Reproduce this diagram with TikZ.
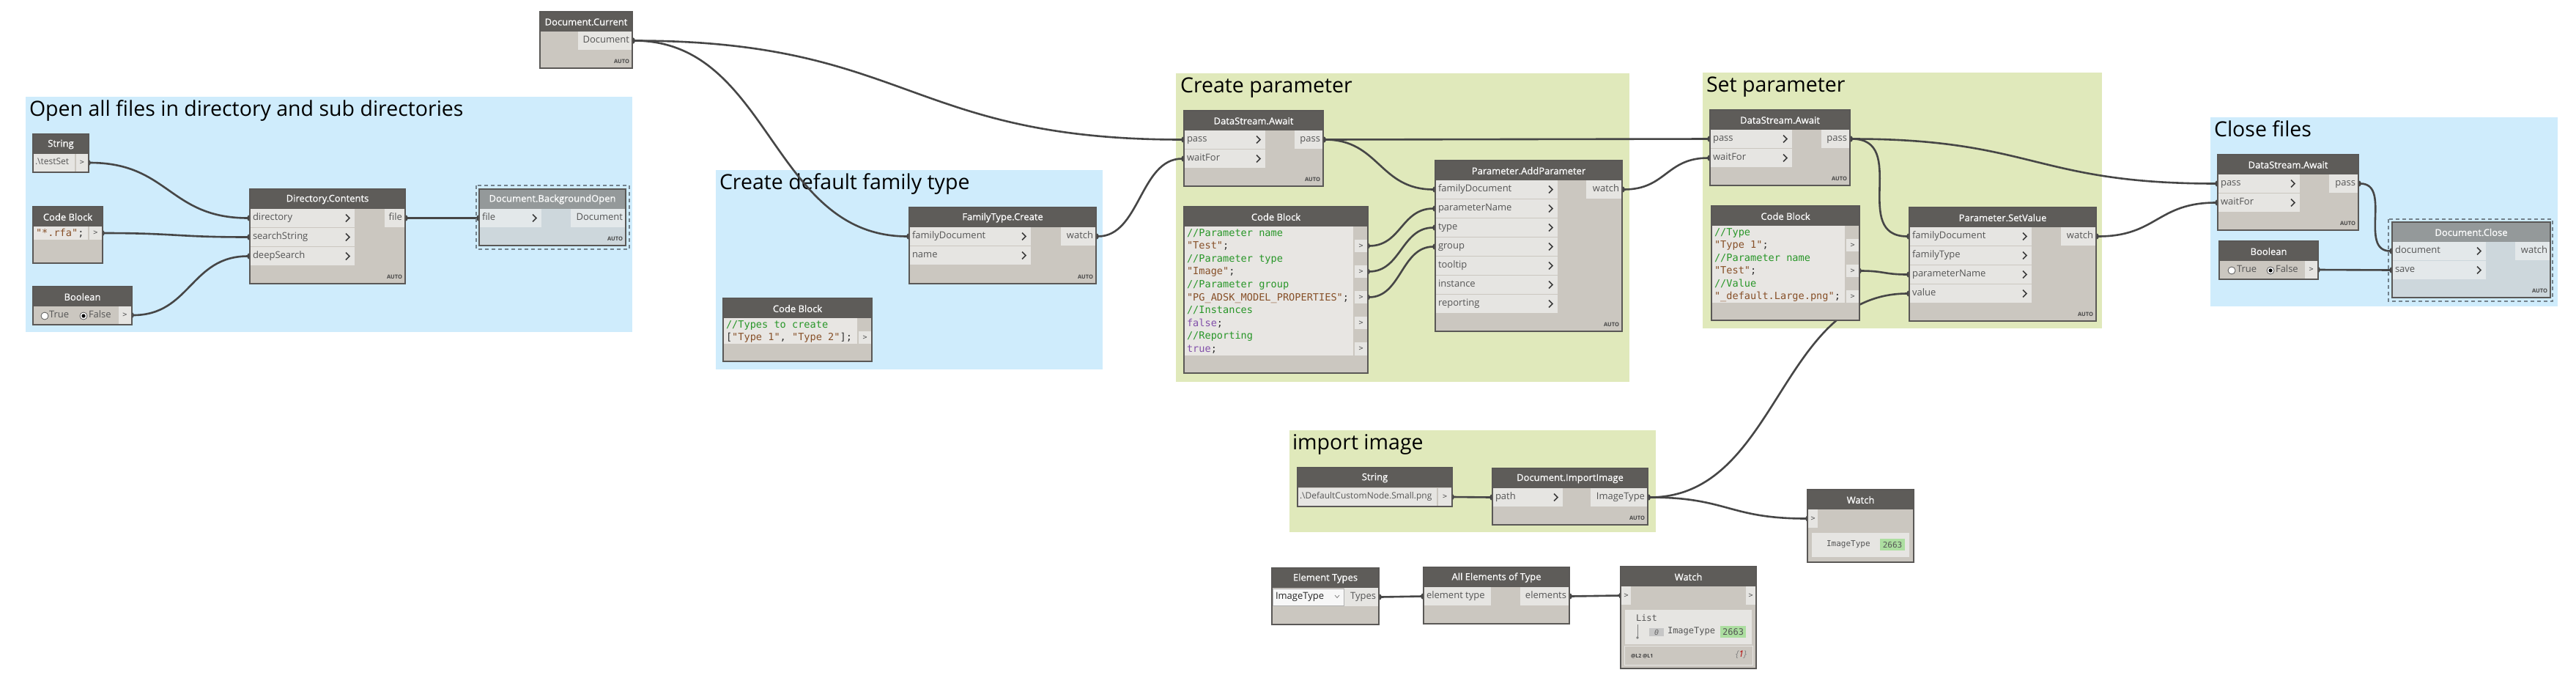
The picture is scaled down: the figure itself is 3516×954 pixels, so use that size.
\documentclass[tikz,border=0pt]{standalone}
\usepackage{fontspec}
\setmainfont{Open Sans}
\setmonofont{DejaVu Sans Mono}
\newfontfamily\hdrfont[FakeBold=0.6]{Open Sans}
\usetikzlibrary{fit,calc,arrows.meta}
\pgfdeclarelayer{grp}
\pgfdeclarelayer{wires}
\pgfdeclarelayer{top}
\pgfsetlayers{grp,wires,main,top}
\definecolor{grpblue}{RGB}{207,236,252}
\definecolor{grpgreen}{RGB}{224,233,187}
\definecolor{hdr}{RGB}{94,92,89}
\definecolor{bodyc}{RGB}{203,199,192}
\definecolor{rowc}{RGB}{230,229,226}
\definecolor{codebg}{RGB}{232,230,227}
\definecolor{brd}{RGB}{90,88,86}
\definecolor{porttxt}{RGB}{85,85,85}
\definecolor{autotxt}{RGB}{70,70,70}
\definecolor{chevc}{RGB}{60,60,60}
\definecolor{fzhdr}{RGB}{148,153,154}
\definecolor{fzbody}{RGB}{205,215,220}
\definecolor{fzrow}{RGB}{227,232,234}
\definecolor{fzdash}{RGB}{115,130,140}
\definecolor{wirec}{RGB}{70,70,70}
\definecolor{cgreen}{RGB}{40,150,40}
\definecolor{cbrown}{RGB}{135,80,40}
\definecolor{cpurple}{RGB}{130,80,170}
\definecolor{codedark}{RGB}{50,50,50}
\definecolor{wgreen}{RGB}{172,222,160}
\def\curbody{bodyc}\def\curhdr{hdr}\def\currow{rowc}
\newcommand\ccom[1]{\textcolor{cgreen}{#1}}
\newcommand\cstr[1]{\textcolor{cbrown}{#1}}
\newcommand\ckw[1]{\textcolor{cpurple}{#1}}
\tikzset{
  every node/.style={inner sep=0pt, outer sep=0pt},
  hdrtext/.style={text=white, font=\hdrfont\fontsize{13}{15}\selectfont},
  porttext/.style={text=porttxt, font=\fontsize{13}{15}\selectfont},
  autotext/.style={text=autotxt, font=\fontsize{7.5}{9}\selectfont\bfseries},
  codetext/.style={anchor=base west, font=\ttfamily\fontsize{13.6}{16}\selectfont, text=codedark},
  grptitle/.style={anchor=base west, text=black, font=\fontsize{28.5}{32}\selectfont},
  nborder/.style={draw=brd, line width=1.4pt},
  chev/.style={draw=chevc, line width=1.6pt},
  wire/.style={draw=wirec, line width=2.6pt, arrows={Ellipse[length=3.5pt,width=7pt]-Ellipse[length=3.5pt,width=7pt]}},
  frzdash/.style={draw=fzdash, line width=1.8pt, dash pattern=on 5pt off 4pt},
  radio/.style={draw=gray!70!black, fill=white, line width=0.8pt},
  smalltext/.style={text=porttxt, font=\ttfamily\fontsize{10}{12}\selectfont},
}
\newcommand\dnode[6]{%
  \node[fit={(#2,#3)(#4,#5)}, fill=\curbody] (#1) {};
  \fill[fill=\curhdr] (#2,#3) rectangle (#4,{#3+27});
  \node[hdrtext] (#1-t) at ({(#2+#4)/2},{#3+14}) {#6};
  \begin{pgfonlayer}{top}\draw[nborder] (#2,#3) rectangle (#4,#5);\end{pgfonlayer}
}
\newcommand\inport[5]{%
  \node[fit={(#2,#4)(#3,{#4+25})}, fill=\currow] (#1) {};
  \node[porttext, anchor=mid west] (#1-l) at ([xshift=4pt]#1.west) {#5};
  \draw[chev] ([xshift=-12pt,yshift=5pt]#1.east) -- ([xshift=-7pt]#1.east) -- ([xshift=-12pt,yshift=-5pt]#1.east);
}
\newcommand\inportnc[5]{%
  \node[fit={(#2,#4)(#3,{#4+25})}, fill=\currow] (#1) {};
  \node[porttext, anchor=mid west] (#1-l) at ([xshift=4pt]#1.west) {#5};
}
\newcommand\outport[5]{%
  \node[fit={(#2,#4)(#3,{#4+25})}, fill=\currow] (#1) {};
  \node[porttext, anchor=mid east] (#1-l) at ([xshift=-4pt]#1.east) {#5};
}
\newcommand\smallout[5]{%
  \node[fit={(#2,#3)(#4,#5)}, fill=\currow] (#1) {};
  \node[smalltext] (#1-l) at (#1.center) {>};
}
\newcommand\autolbl[3]{\node[autotext, anchor=base east] (#1) at (#2,#3) {AUTO};}
\newcommand\cl[4]{\node[codetext] (#1) at (#2,#3) {#4};}
\newcommand\wire[3][0.5]{%
  \draw[wire] let \p1=(#2.east), \p2=(#3.west), \n1={(\x2-\x1)*#1} in
    (\p1) .. controls +(\n1,0) and +({-\n1},0) .. (\p2);
}
\begin{document}
\begin{tikzpicture}[x=1pt,y=-1pt]
\begin{pgfonlayer}{grp}
\fill[white] (0,0) rectangle (3516,954);
\end{pgfonlayer}
\useasboundingbox (0,0) rectangle (3516,954);
% ---------- groups
\begin{pgfonlayer}{grp}
\node[fit={(35,132)(863,453)}, fill=grpblue] (g1) {};
\node[grptitle] (g1-t) at (40,158) {Open all files in directory and sub directories};
\node[fit={(977,232)(1505,504)}, fill=grpblue] (g2) {};
\node[grptitle] (g2-t) at (982,258) {Create default family type};
\node[fit={(1605,100)(2224,521)}, fill=grpgreen] (g3) {};
\node[grptitle] (g3-t) at (1611,126) {Create parameter};
\node[fit={(2324,99)(2869,448)}, fill=grpgreen] (g4) {};
\node[grptitle] (g4-t) at (2329,125) {Set parameter};
\node[fit={(3017,160)(3491,418)}, fill=grpblue] (g5) {};
\node[grptitle] (g5-t) at (3022,186) {Close files};
\node[fit={(1760,587)(2260,726)}, fill=grpgreen] (g6) {};
\node[grptitle] (g6-t) at (1764,613) {import image};
\end{pgfonlayer}
% ---------- Document.Current
\dnode{dcur}{737}{16}{863}{93}{Document.Current}
\outport{dcur-o}{789}{863}{43}{Document}
\autolbl{dcur-a}{859}{86}
% ---------- String 1
\dnode{str1}{45}{183}{121}{235}{String}
\node[fit={(46,210)(102,234)}, fill=rowc] (str1-v) {};
\node[porttext, anchor=mid west, font=\fontsize{12}{14}\selectfont] (str1-vl) at (48,222) {.\textbackslash testSet};
\smallout{str1-o}{104}{210}{120}{234}
% ---------- Code Block 1
\dnode{cb1}{45}{282}{140}{359}{Code Block}
\node[fit={(46,309)(120,327)}, fill=codebg] (cb1-c) {};
\cl{cb1-l0}{49}{322}{\cstr{"*.rfa"};}
\smallout{cb1-o}{122}{309}{139}{327}
% ---------- Boolean 1
\dnode{bool1}{45}{391}{180}{443}{Boolean}
\draw[radio] (61,431) circle[radius=5pt];
\node[porttext, anchor=mid west] (bool1-tt) at (67,431) {True};
\draw[radio] (114,431) circle[radius=5pt];
\fill[black] (114,431) circle[radius=2.6pt];
\node[porttext, anchor=mid west] (bool1-ft) at (121,431) {False};
\smallout{bool1-o}{162}{418}{179}{442}
% ---------- Directory.Contents
\dnode{dirc}{341}{258}{553}{387}{Directory.Contents}
\inport{dirc-i1}{341}{484}{285}{directory}
\inport{dirc-i2}{341}{484}{311}{searchString}
\inport{dirc-i3}{341}{484}{337}{deepSearch}
\outport{dirc-o}{525}{553}{285}{file}
\autolbl{dirc-a}{549}{380}
% ---------- Document.BackgroundOpen (frozen)
\draw[frzdash] (650,253) rectangle (859,340);
\begin{scope}
\def\curbody{fzbody}\def\curhdr{fzhdr}\def\currow{fzrow}
\dnode{dbo}{654}{258}{854}{335}{Document.BackgroundOpen}
\inport{dbo-i}{654}{739}{285}{file}
\outport{dbo-o}{779}{854}{285}{Document}
\autolbl{dbo-a}{850}{328}
\end{scope}
% ---------- FamilyType.Create
\dnode{ftc}{1241}{283}{1496}{387}{FamilyType.Create}
\inport{ftc-i1}{1241}{1407}{310}{familyDocument}
\inport{ftc-i2}{1241}{1407}{336}{name}
\outport{ftc-o}{1448}{1496}{310}{watch}
\autolbl{ftc-a}{1492}{380}
% ---------- Code Block 2
\dnode{cb2}{987}{407}{1190}{493}{Code Block}
\node[fit={(988,434)(1170,469)}, fill=codebg] (cb2-c) {};
\cl{cb2-l0}{991}{447}{\ccom{//Types to create}}
\cl{cb2-l1}{991}{464.5}{[\cstr{"Type 1"}, \cstr{"Type 2"}];}
\smallout{cb2-o}{1172}{452}{1189}{469}
% ---------- DataStream.Await 1
\dnode{dsa1}{1616}{151}{1806}{254}{DataStream.Await}
\inport{dsa1-i1}{1616}{1727}{178}{pass}
\inport{dsa1-i2}{1616}{1727}{204}{waitFor}
\outport{dsa1-o}{1767}{1806}{178}{pass}
\autolbl{dsa1-a}{1802}{247}
% ---------- Code Block 3
\dnode{cb3}{1616}{282}{1867}{509}{Code Block}
\node[fit={(1617,309)(1847,485)}, fill=codebg] (cb3-c) {};
\cl{cb3-l0}{1620}{322}{\ccom{//Parameter name}}
\cl{cb3-l1}{1620}{339.6}{\cstr{"Test"};}
\cl{cb3-l2}{1620}{357.2}{\ccom{//Parameter type}}
\cl{cb3-l3}{1620}{374.8}{\cstr{"Image"};}
\cl{cb3-l4}{1620}{392.4}{\ccom{//Parameter group}}
\cl{cb3-l5}{1620}{410}{\cstr{"PG\_ADSK\_MODEL\_PROPERTIES"};}
\cl{cb3-l6}{1620}{427.6}{\ccom{//Instances}}
\cl{cb3-l7}{1620}{445.2}{\ckw{false};}
\cl{cb3-l8}{1620}{462.8}{\ccom{//Reporting}}
\cl{cb3-l9}{1620}{480.4}{\ckw{true};}
\smallout{cb3-o1}{1849}{327}{1866}{344}
\smallout{cb3-o2}{1849}{362}{1866}{379}
\smallout{cb3-o3}{1849}{397}{1866}{414}
\smallout{cb3-o4}{1849}{432}{1866}{449}
\smallout{cb3-o5}{1849}{467}{1866}{485}
% ---------- Parameter.AddParameter
\dnode{pap}{1959}{219}{2214}{452}{Parameter.AddParameter}
\inport{pap-i1}{1959}{2126}{246}{familyDocument}
\inport{pap-i2}{1959}{2126}{272}{parameterName}
\inport{pap-i3}{1959}{2126}{298}{type}
\inport{pap-i4}{1959}{2126}{324}{group}
\inport{pap-i5}{1959}{2126}{350}{tooltip}
\inport{pap-i6}{1959}{2126}{376}{instance}
\inport{pap-i7}{1959}{2126}{402}{reporting}
\outport{pap-o}{2165}{2214}{246}{watch}
\autolbl{pap-a}{2210}{445}
% ---------- DataStream.Await 2
\dnode{dsa2}{2334}{150}{2525}{253}{DataStream.Await}
\inport{dsa2-i1}{2334}{2446}{177}{pass}
\inport{dsa2-i2}{2334}{2446}{203}{waitFor}
\outport{dsa2-o}{2486}{2525}{177}{pass}
\autolbl{dsa2-a}{2521}{246}
% ---------- Code Block 4
\dnode{cb4}{2336}{281}{2538}{437}{Code Block}
\node[fit={(2337,308)(2518,413)}, fill=codebg] (cb4-c) {};
\cl{cb4-l0}{2340}{321}{\ccom{//Type}}
\cl{cb4-l1}{2340}{338.5}{\cstr{"Type 1"};}
\cl{cb4-l2}{2340}{356}{\ccom{//Parameter name}}
\cl{cb4-l3}{2340}{373.5}{\cstr{"Test"};}
\cl{cb4-l4}{2340}{391}{\ccom{//Value}}
\cl{cb4-l5}{2340}{408.5}{\cstr{"\_default.Large.png"};}
\smallout{cb4-o1}{2520}{326}{2537}{343}
\smallout{cb4-o2}{2520}{361}{2537}{378}
\smallout{cb4-o3}{2520}{396}{2537}{413}
% ---------- Parameter.SetValue
\dnode{psv}{2606}{283}{2861}{438}{Parameter.SetValue}
\inport{psv-i1}{2606}{2773}{310}{familyDocument}
\inport{psv-i2}{2606}{2773}{336}{familyType}
\inport{psv-i3}{2606}{2773}{362}{parameterName}
\inport{psv-i4}{2606}{2773}{388}{value}
\outport{psv-o}{2813}{2861}{310}{watch}
\autolbl{psv-a}{2857}{431}
% ---------- DataStream.Await 3
\dnode{dsa3}{3027}{211}{3219}{314}{DataStream.Await}
\inport{dsa3-i1}{3027}{3139}{238}{pass}
\inport{dsa3-i2}{3027}{3139}{264}{waitFor}
\outport{dsa3-o}{3179}{3219}{238}{pass}
\autolbl{dsa3-a}{3215}{307}
% ---------- Boolean 2
\dnode{bool2}{3029}{329}{3164}{381}{Boolean}
\draw[radio] (3046,369) circle[radius=5pt];
\node[porttext, anchor=mid west] (bool2-tt) at (3053,369) {True};
\draw[radio] (3099,369) circle[radius=5pt];
\fill[black] (3099,369) circle[radius=2.6pt];
\node[porttext, anchor=mid west] (bool2-ft) at (3106,369) {False};
\smallout{bool2-o}{3146}{356}{3163}{380}
% ---------- Document.Close (frozen)
\draw[frzdash] (3260,299) rectangle (3484,411);
\begin{scope}
\def\curbody{fzbody}\def\curhdr{fzhdr}\def\currow{fzrow}
\dnode{dcl}{3265}{303}{3481}{406}{Document.Close}
\inport{dcl-i1}{3265}{3393}{330}{document}
\inport{dcl-i2}{3265}{3393}{356}{save}
\outport{dcl-o}{3433}{3481}{330}{watch}
\autolbl{dcl-a}{3477}{399}
\end{scope}
% ---------- String 2
\dnode{str2}{1771}{638}{1982}{691}{String}
\node[fit={(1772,666)(1961,690)}, fill=rowc] (str2-v) {};
\node[porttext, anchor=mid west, font=\fontsize{12}{14}\selectfont] (str2-vl) at (1774,678) {.\textbackslash DefaultCustomNode.Small.png};
\smallout{str2-o}{1963}{666}{1981}{690}
% ---------- Document.ImportImage
\dnode{dii}{2037}{639}{2249}{716}{Document.ImportImage}
\inport{dii-i}{2037}{2133}{666}{path}
\outport{dii-o}{2171}{2249}{666}{ImageType}
\autolbl{dii-a}{2245}{709}
% ---------- Watch 1
\dnode{w1}{2467}{668}{2612}{767}{Watch}
\smallout{w1-i}{2468}{695}{2481}{720}
\node[fit={(2473,727)(2606,760)}, fill=rowc] (w1-p) {};
\node[anchor=mid west, font=\ttfamily\fontsize{11}{13}\selectfont, text=porttxt] (w1-k) at (2493,743) {ImageType};
\node[fit={(2566,735)(2600,751)}, fill=wgreen] (w1-gb) {};
\node[font=\ttfamily\fontsize{11}{13}\selectfont, text=porttxt] (w1-gv) at (w1-gb.center) {2663};
% ---------- Element Types
\dnode{et}{1736}{775}{1882}{852}{Element Types}
\node[fit={(1737,803)(1834,826)}, fill=white!94!gray, draw=gray!60, line width=0.8pt] (et-dd) {};
\node[porttext, text=black!85, anchor=mid west] (et-ddl) at (1741,814.5) {ImageType};
\draw[gray, line width=0.8pt] (1822,812) -- (1825,815.5) -- (1828,812);
\outport{et-o}{1835}{1882}{802}{Types}
% ---------- All Elements of Type
\dnode{aet}{1943}{774}{2142}{851}{All Elements of Type}
\inportnc{aet-i}{1943}{2035}{801}{element type}
\outport{aet-o}{2075}{2142}{801}{elements}
% ---------- Watch 2
\dnode{w2}{2212}{773}{2397}{912}{Watch}
\smallout{w2-i}{2213}{800}{2226}{825}
\smallout{w2-o}{2383}{800}{2396}{825}
\node[fit={(2218,832)(2391,879)}, fill=rowc] (w2-p) {};
\node[anchor=mid west, font=\ttfamily\fontsize{12}{14}\selectfont, text=porttxt] (w2-list) at (2233,845) {List};
\draw[gray, line width=0.8pt] (2235,852) -- (2235,869);
\fill[gray] (2235,870) circle[radius=1.8pt];
\node[fit={(2251,857)(2271,868)}, fill=gray!45] (w2-ib) {};
\node[font=\ttfamily\itshape\fontsize{10}{12}\selectfont, text=black!60] (w2-i0) at (w2-ib.center) {0};
\node[anchor=mid west, font=\ttfamily\fontsize{12}{14}\selectfont, text=porttxt] (w2-k) at (2276,862) {ImageType};
\node[fit={(2348,854)(2383,870)}, fill=wgreen] (w2-gb) {};
\node[font=\ttfamily\fontsize{12}{14}\selectfont, text=porttxt] (w2-gv) at (w2-gb.center) {2663};
\node[fit={(2217,881)(2392,907)}, draw=rowc, line width=0.8pt] (w2-f) {};
\node[anchor=mid west, font=\fontsize{7}{8}\selectfont\bfseries, text=black!75] (w2-lv) at (2226,895) {@L2 @L1};
\node[anchor=mid east, font=\itshape\fontsize{12}{14}\selectfont, text=gray] (w2-cnt) at (2384,894) {\{\textcolor{red!70!black}{1}\}};
% ---------- wires
\begin{pgfonlayer}{wires}
\wire{str1-o}{dirc-i1}
\wire{cb1-o}{dirc-i2}
\wire{bool1-o}{dirc-i3}
\wire{dirc-o}{dbo-i}
\wire{dcur-o}{dsa1-i1}
\wire{dcur-o}{ftc-i1}
\wire{ftc-o}{dsa1-i2}
\wire{dsa1-o}{pap-i1}
\wire{dsa1-o}{dsa2-i1}
\wire{cb3-o1}{pap-i2}
\wire{cb3-o2}{pap-i3}
\wire{cb3-o3}{pap-i4}
\wire{pap-o}{dsa2-i2}
\wire[1]{dsa2-o}{psv-i1}
\wire{dsa2-o}{dsa3-i1}
\wire{cb4-o2}{psv-i3}
\wire{dii-o}{psv-i4}
\wire{psv-o}{dsa3-i2}
\wire[1]{dsa3-o}{dcl-i1}
\wire{bool2-o}{dcl-i2}
\wire{str2-o}{dii-i}
\wire{dii-o}{w1-i}
\wire{et-o}{aet-i}
\wire{aet-o}{w2-i}
\end{pgfonlayer}
\end{tikzpicture}
\end{document}
